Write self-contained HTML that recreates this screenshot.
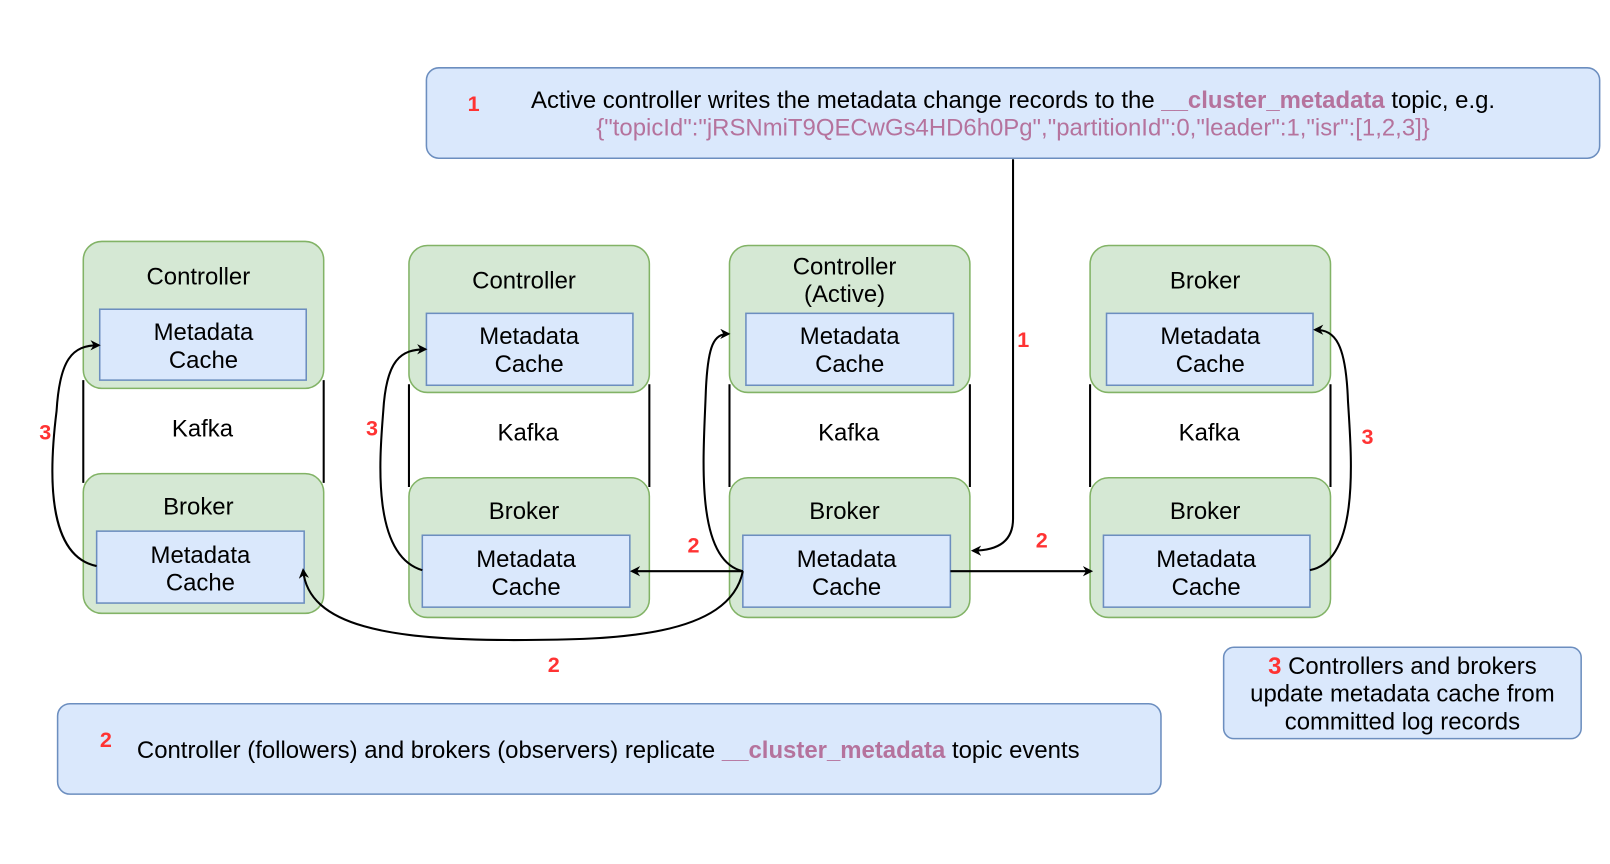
<!DOCTYPE html>
<html><head><style>
body{margin:0;background:#fff;overflow:hidden}
svg{display:block}
svg text{font-family:"Liberation Sans",Arial,sans-serif}
</style></head><body>
<svg width="1610" height="864" viewBox="0 0 1567 841" xmlns="http://www.w3.org/2000/svg">
<defs><marker id="a" markerWidth="10" markerHeight="10" refX="8" refY="5" orient="auto" markerUnits="userSpaceOnUse"><path d="M0,0 L10,5 L0,10 L3,5 Z" fill="#000"/></marker></defs>
<g font-size="23.3" text-anchor="middle">
<rect x="415" y="66" width="1142" height="88" rx="12" fill="#dae8fc" stroke="#6c8ebf" stroke-width="1.5"/>
<text x="461" y="108" fill="#ff3333" font-weight="bold" font-size="21">1</text>
<text x="986" y="105">Active controller writes the metadata change records to the <tspan fill="#B5739D" font-weight="bold">__cluster_metadata</tspan> topic, e.g.</text>
<text x="986" y="132" fill="#B5739D">{"topicId":"jRSNmiT9QECwGs4HD6h0Pg","partitionId":0,"leader":1,"isr":[1,2,3]}</text>
<rect x="56" y="685" width="1074" height="88" rx="12" fill="#dae8fc" stroke="#6c8ebf" stroke-width="1.5"/>
<text x="103" y="727" fill="#ff3333" font-weight="bold" font-size="21">2</text>
<text x="592" y="738">Controller (followers) and brokers (observers) replicate <tspan fill="#B5739D" font-weight="bold">__cluster_metadata</tspan> topic events</text>
<rect x="1191" y="630" width="348" height="89" rx="10" fill="#dae8fc" stroke="#6c8ebf" stroke-width="1.5"/>
<text x="1365" y="656"><tspan fill="#ff3333" font-weight="bold">3</tspan> Controllers and brokers</text>
<text x="1365" y="683">update metadata cache from</text>
<text x="1365" y="710">committed log records</text>

<line x1="81" y1="370" x2="81" y2="470" stroke="#000" stroke-width="2"/>
<line x1="315" y1="370" x2="315" y2="470" stroke="#000" stroke-width="2"/>
<rect x="81" y="235" width="234" height="143" rx="18" fill="#d5e8d4" stroke="#82b366" stroke-width="1.5"/>
<text x="193" y="277">Controller</text>
<rect x="97" y="301" width="201" height="69" fill="#dae8fc" stroke="#6c8ebf" stroke-width="1.5"/>
<text x="198" y="331">Metadata</text><text x="198" y="358">Cache</text>
<text x="197" y="425">Kafka</text>
<rect x="81" y="461" width="234" height="136" rx="18" fill="#d5e8d4" stroke="#82b366" stroke-width="1.5"/>
<text x="193" y="501">Broker</text>
<rect x="94" y="517" width="202" height="70" fill="#dae8fc" stroke="#6c8ebf" stroke-width="1.5"/>
<text x="195" y="548">Metadata</text><text x="195" y="575">Cache</text>

<line x1="398" y1="374" x2="398" y2="474" stroke="#000" stroke-width="2"/>
<line x1="632" y1="374" x2="632" y2="474" stroke="#000" stroke-width="2"/>
<rect x="398" y="239" width="234" height="143" rx="18" fill="#d5e8d4" stroke="#82b366" stroke-width="1.5"/>
<text x="510" y="281">Controller</text>
<rect x="415" y="305" width="201" height="70" fill="#dae8fc" stroke="#6c8ebf" stroke-width="1.5"/>
<text x="515" y="335">Metadata</text><text x="515" y="362">Cache</text>
<text x="514" y="429">Kafka</text>
<rect x="398" y="465" width="234" height="136" rx="18" fill="#d5e8d4" stroke="#82b366" stroke-width="1.5"/>
<text x="510" y="505">Broker</text>
<rect x="411" y="521" width="202" height="70" fill="#dae8fc" stroke="#6c8ebf" stroke-width="1.5"/>
<text x="512" y="552">Metadata</text><text x="512" y="579">Cache</text>

<line x1="710" y1="374" x2="710" y2="474" stroke="#000" stroke-width="2"/>
<line x1="944" y1="374" x2="944" y2="474" stroke="#000" stroke-width="2"/>
<rect x="710" y="239" width="234" height="143" rx="18" fill="#d5e8d4" stroke="#82b366" stroke-width="1.5"/>
<text x="822" y="267">Controller</text><text x="822" y="294">(Active)</text>
<rect x="726" y="305" width="202" height="70" fill="#dae8fc" stroke="#6c8ebf" stroke-width="1.5"/>
<text x="827" y="335">Metadata</text><text x="827" y="362">Cache</text>
<text x="826" y="429">Kafka</text>
<rect x="710" y="465" width="234" height="136" rx="18" fill="#d5e8d4" stroke="#82b366" stroke-width="1.5"/>
<text x="822" y="505">Broker</text>
<rect x="723" y="521" width="202" height="70" fill="#dae8fc" stroke="#6c8ebf" stroke-width="1.5"/>
<text x="824" y="552">Metadata</text><text x="824" y="579">Cache</text>

<line x1="1061" y1="374" x2="1061" y2="474" stroke="#000" stroke-width="2"/>
<line x1="1295" y1="374" x2="1295" y2="474" stroke="#000" stroke-width="2"/>
<rect x="1061" y="239" width="234" height="143" rx="18" fill="#d5e8d4" stroke="#82b366" stroke-width="1.5"/>
<text x="1173" y="281">Broker</text>
<rect x="1077" y="305" width="201" height="70" fill="#dae8fc" stroke="#6c8ebf" stroke-width="1.5"/>
<text x="1178" y="335">Metadata</text><text x="1178" y="362">Cache</text>
<text x="1177" y="429">Kafka</text>
<rect x="1061" y="465" width="234" height="136" rx="18" fill="#d5e8d4" stroke="#82b366" stroke-width="1.5"/>
<text x="1173" y="505">Broker</text>
<rect x="1074" y="521" width="201" height="70" fill="#dae8fc" stroke="#6c8ebf" stroke-width="1.5"/>
<text x="1174" y="552">Metadata</text><text x="1174" y="579">Cache</text>
</g>

<g fill="none" stroke="#000" stroke-width="2">
<path d="M986,155 L986,505 Q986,536 947,536" marker-end="url(#a)"/>
<path d="M723,556 L615,556" marker-end="url(#a)"/>
<path d="M925,556 L1062,556" marker-end="url(#a)"/>
<path d="M723,556 C710,620 600,623 500,623 C380,623 300,610 295,555" marker-end="url(#a)"/>
<path d="M94,551 C40,540 50,440 55,400 C58,350 70,336 96,336" marker-end="url(#a)"/>
<path d="M411,555 C360,540 370,440 373,400 C376,350 390,340 414,340" marker-end="url(#a)"/>
<path d="M723,556 C675,545 685,440 687,380 C689,335 695,325 709,325" marker-end="url(#a)"/>
<path d="M1275,555 C1325,545 1315,440 1312,390 C1310,335 1300,321 1280,321" marker-end="url(#a)"/>
</g>
<g fill="#ff3333" font-weight="bold" font-size="21" text-anchor="middle">
<text x="996" y="338">1</text>
<text x="675" y="538">2</text>
<text x="1014" y="533">2</text>
<text x="539" y="654">2</text>
<text x="44" y="428">3</text>
<text x="362" y="424">3</text>
<text x="1331" y="432">3</text>
</g>
</svg>
</body></html>
